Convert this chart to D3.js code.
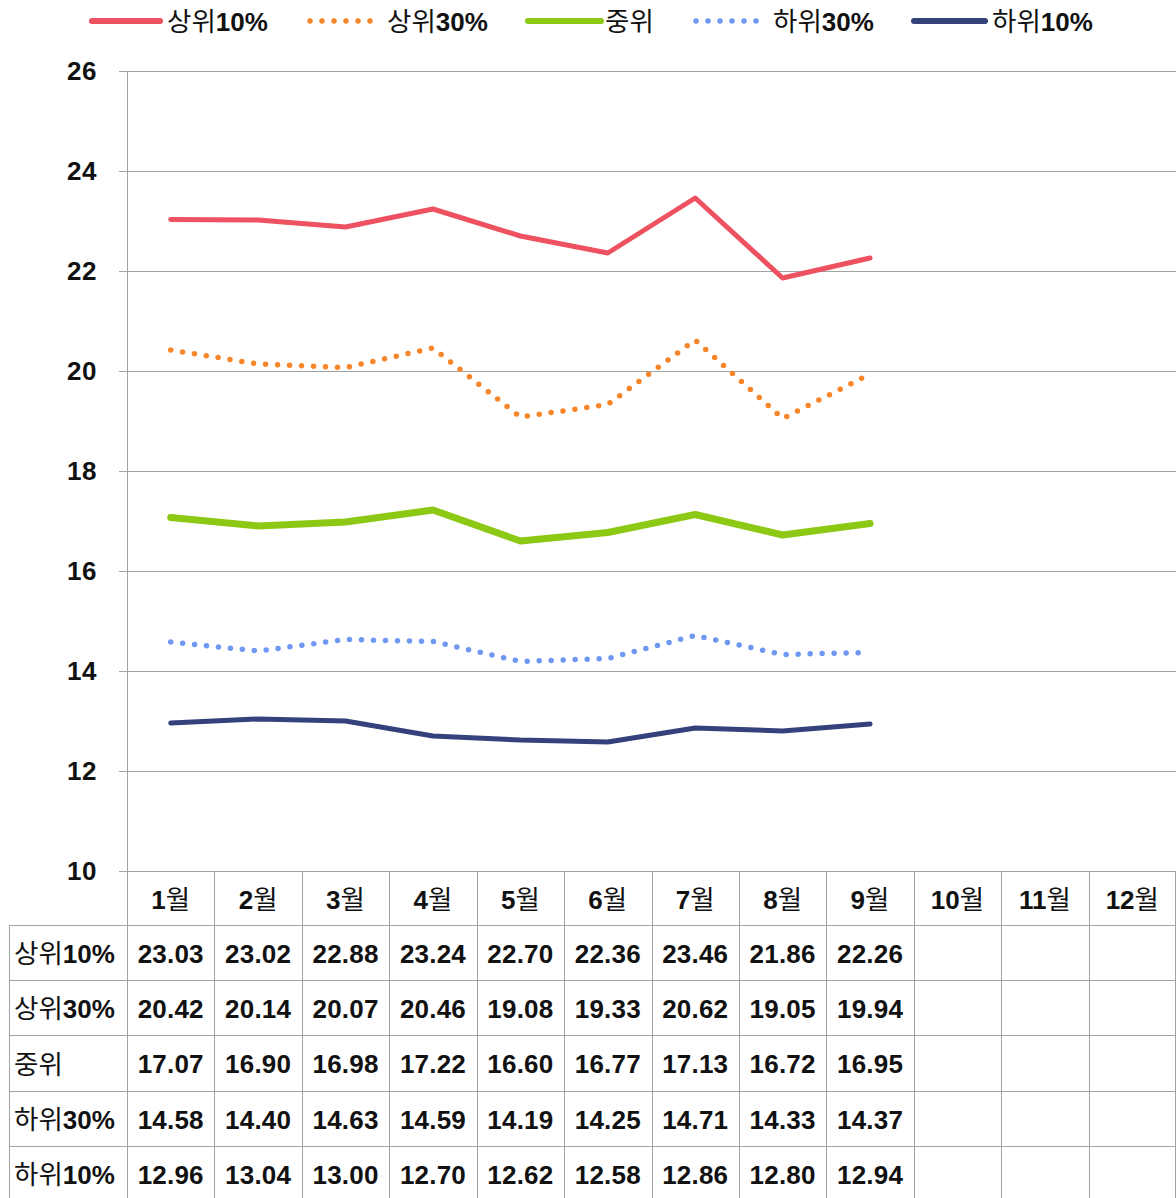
<!DOCTYPE html>
<html><head><meta charset="utf-8">
<script src="https://cdn.jsdelivr.net/npm/d3@7"></script>
<style>
html,body{margin:0;padding:0;background:#fff;}
svg{display:block;}
</style></head>
<body>
<svg id="chart" width="1176" height="1198"></svg>
<script>
const months = ["1월","2월","3월","4월","5월","6월","7월","8월","9월","10월","11월","12월"];
const seriesNames = ["상위10%","상위30%","중위","하위30%","하위10%"];
const top10 = [23.03,23.02,22.88,23.24,22.70,22.36,23.46,21.86,22.26];
const top30 = [20.42,20.14,20.07,20.46,19.08,19.33,20.62,19.05,19.94];
const median = [17.07,16.90,16.98,17.22,16.60,16.77,17.13,16.72,16.95];
const bottom30 = [14.58,14.40,14.63,14.59,14.19,14.25,14.71,14.33,14.37];
const bottom10 = [12.96,13.04,13.00,12.70,12.62,12.58,12.86,12.80,12.94];
const yTicks = [10,12,14,16,18,20,22,24,26];

const seriesValues = [top10, top30, median, bottom30, bottom10];
const styles = [
  {color:"#EE5160", width:5, dash:null},
  {color:"#F7862B", width:5.5, dash:"0 12"},
  {color:"#8CC814", width:7, dash:null},
  {color:"#6F98F2", width:5.5, dash:"0 12"},
  {color:"#34417B", width:5, dash:null}
];

const svg = d3.select("#chart");
const L = 127, R = 1176, T = 71, B = 871;
const x = d3.scaleBand().domain(months).range([L, R]).padding(0);
const y = d3.scaleLinear().domain([10,26]).range([B, T]);
const gridColor = "#a3a3a3";
const numFont = "'Liberation Sans', Arial, sans-serif";
const cjkFont = "'Noto Sans CJK KR', sans-serif";

svg.append("g").selectAll("line").data(yTicks).join("line")
  .attr("x1", 119).attr("x2", R).attr("y1", d=>y(d)+0.5).attr("y2", d=>y(d)+0.5)
  .attr("stroke", gridColor).attr("stroke-width", 1);
svg.append("line").attr("x1", L+0.5).attr("x2", L+0.5).attr("y1", T).attr("y2", B)
  .attr("stroke", gridColor).attr("stroke-width", 1);

svg.append("g").selectAll("text").data(yTicks).join("text")
  .attr("x", 97).attr("y", d=>y(d)).attr("dy","0.36em")
  .attr("text-anchor","end")
  .attr("font-family", numFont).attr("font-weight","bold").attr("font-size", 26)
  .attr("letter-spacing", 0.5).attr("fill","#111")
  .text(d=>d);

const lineGen = d3.line().x((d,i)=>x(months[i]) + x.bandwidth()/2).y(d=>y(d)).curve(d3.curveLinear);
seriesValues.forEach((vals, k) => {
  const st = styles[k];
  svg.append("path").datum(vals)
    .attr("d", lineGen)
    .attr("fill","none").attr("stroke", st.color).attr("stroke-width", st.width)
    .attr("stroke-linecap","round").attr("stroke-linejoin","round")
    .attr("stroke-dasharray", st.dash);
});

function mixedText(sel, str) {
  const parts = str.match(/[0-9.%]+|[^0-9.%]+/g) || [];
  parts.forEach(p => {
    const isNum = /^[0-9.%]+$/.test(p);
    sel.append("tspan").text(p)
      .attr("font-family", isNum ? numFont : cjkFont)
      .attr("font-weight", isNum ? "bold" : "normal")
      .attr("font-size", isNum ? 26 : 26.5);
  });
}

const legendPos = [[92,160,167],[310,372,387],[528,601,605],[696,758,773],[914,985,992]];
seriesNames.forEach((name, k) => {
  const st = styles[k];
  const [a,b,tx] = legendPos[k];
  svg.append("line").attr("x1", a).attr("x2", b).attr("y1", 21).attr("y2", 21)
    .attr("stroke", st.color).attr("stroke-width", st.dash ? 5.5 : 6)
    .attr("stroke-linecap","round").attr("stroke-dasharray", st.dash);
  const t = svg.append("text").attr("x", tx).attr("y", 30.5)
    .attr("fill","#111");
  mixedText(t, name);
});

const rowH = 55.2;
const headTop = B, headBot = 925;
const rowTops = seriesNames.map((d,i)=> headBot + i*rowH);
const tableBottom = 1200;
const g = svg.append("g");
g.append("line").attr("x1", L).attr("x2", R).attr("y1", headTop+0.5).attr("y2", headTop+0.5).attr("stroke", gridColor);
rowTops.forEach(rt => {
  g.append("line").attr("x1", 9).attr("x2", R).attr("y1", Math.round(rt)+0.5).attr("y2", Math.round(rt)+0.5).attr("stroke", gridColor);
});
const bounds = months.map(m=>x(m)).concat([R-1.5]);
bounds.forEach(bx => {
  g.append("line").attr("x1", Math.round(bx)+0.5).attr("x2", Math.round(bx)+0.5)
    .attr("y1", headTop).attr("y2", tableBottom).attr("stroke", gridColor);
});
g.append("line").attr("x1", 9.5).attr("x2", 9.5).attr("y1", headBot).attr("y2", tableBottom).attr("stroke", gridColor);

months.forEach(m => {
  const t = g.append("text").attr("x", x(m)+x.bandwidth()/2).attr("y", (headTop+headBot)/2 + 11)
    .attr("text-anchor","middle").attr("fill","#111");
  mixedText(t, m);
});
seriesNames.forEach((name, k) => {
  const cy = rowTops[k] + rowH/2 + 1;
  const t = g.append("text").attr("x", 14).attr("y", cy + 9.5)
    .attr("fill","#111");
  mixedText(t, name);
  seriesValues[k].forEach((v, i) => {
    g.append("text").attr("x", x(months[i]) + x.bandwidth()/2).attr("y", cy).attr("dy","0.36em")
      .attr("text-anchor","middle").attr("font-family", numFont).attr("font-weight","bold")
      .attr("font-size", 26).attr("letter-spacing", 0.2).attr("fill","#111")
      .text(v.toFixed(2));
  });
});
</script>
</body></html>
